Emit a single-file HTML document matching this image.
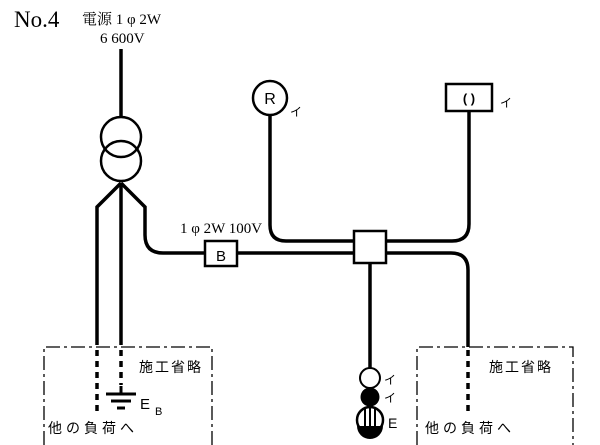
<!DOCTYPE html>
<html><head><meta charset="utf-8"><style>
body{margin:0;background:#fff}
svg{display:block}
text{font-family:"Liberation Serif","Noto Serif CJK SC",serif;fill:#000}
.s{font-family:"Liberation Sans","Noto Sans CJK JP",sans-serif}
</style></head><body>
<svg width="600" height="445" viewBox="0 0 600 445">
<text x="14" y="27" font-size="23">No.4</text>
<text x="82" y="24" font-size="15">電源 1 φ 2W</text>
<text x="100" y="43" font-size="15">6 600V</text>
<text x="180" y="233" font-size="15">1 φ 2W 100V</text>
<g fill="none" stroke="#000" stroke-width="3.5">
<line x1="121" y1="49" x2="121" y2="117"/>
<circle cx="121" cy="137" r="20" stroke-width="2.5"/>
<circle cx="121" cy="161" r="20" stroke-width="2.5"/>
<polyline points="121,183 97,207 97,345"/>
<line x1="121" y1="183" x2="121" y2="345"/>
<path d="M121,183 L145,207 L145,235 Q145,253 163,253 L205,253"/>
<line x1="237" y1="253" x2="354" y2="253"/>
<path d="M270,115 L270,225 Q270,241 286,241 L354,241"/>
<path d="M386,241 L452,241 Q469,241 469,224 L469,111"/>
<path d="M386,253 L451,253 Q468,253 468,270 L468,347"/>
<line x1="370" y1="263" x2="370" y2="368"/>
</g>
<g stroke="#000" stroke-width="3.5" stroke-dasharray="6,5">
<line x1="97" y1="350" x2="97" y2="412"/>
<line x1="121" y1="350" x2="121" y2="385"/>
<line x1="468" y1="350" x2="468" y2="412"/>
</g>
<g fill="#fff" stroke="#000" stroke-width="2.5">
<rect x="205" y="241" width="32" height="25"/>
<rect x="354" y="231" width="32" height="32"/>
<circle cx="270" cy="98" r="17"/>
<rect x="446" y="84" width="46" height="27"/>
</g>
<text class="s" x="221" y="261" font-size="15" text-anchor="middle">B</text>
<text class="s" x="270" y="104" font-size="16" text-anchor="middle">R</text>
<text class="s" x="469" y="103" font-size="13" text-anchor="middle" font-weight="bold">( )</text>
<text class="s" x="290" y="116" font-size="12">イ</text>
<text class="s" x="500" y="107" font-size="12">イ</text>
<g stroke="#000" stroke-width="3">
<line x1="121" y1="386" x2="121" y2="393"/>
<line x1="106" y1="394" x2="136" y2="394"/>
<line x1="111" y1="401" x2="131" y2="401"/>
<line x1="117" y1="408" x2="125" y2="408"/>
</g>
<text class="s" x="140" y="409" font-size="15">E</text>
<text class="s" x="155" y="415" font-size="11">B</text>
<g fill="none" stroke="#000" stroke-width="1.3" stroke-dasharray="14,4,3,4">
<polyline points="44,445 44,347 212,347 212,445"/>
<polyline points="417,445 417,347 573,347 573,445"/>
</g>
<text class="s" x="139" y="372" font-size="14" letter-spacing="2">施工省略</text>
<text class="s" x="489" y="372" font-size="14" letter-spacing="2">施工省略</text>
<text class="s" x="48" y="433" font-size="14" letter-spacing="4">他の負荷へ</text>
<text class="s" x="425" y="433" font-size="14" letter-spacing="4">他の負荷へ</text>
<circle cx="370" cy="378" r="10" fill="#fff" stroke="#000" stroke-width="2"/>
<circle cx="370" cy="397" r="9.5" fill="#000"/>
<circle cx="370" cy="420" r="13" fill="#fff" stroke="#000" stroke-width="2.5"/>
<path d="M357,426 L383,426 A13,13 0 0 1 357,426 Z" fill="#000"/>
<g stroke="#000" stroke-width="2"><line x1="365" y1="408" x2="365" y2="427"/><line x1="370" y1="407" x2="370" y2="427"/><line x1="375" y1="408" x2="375" y2="427"/></g>
<text class="s" x="384" y="384" font-size="12">イ</text>
<text class="s" x="384" y="402" font-size="12">イ</text>
<text class="s" x="388" y="428" font-size="14">E</text>
</svg>
</body></html>
